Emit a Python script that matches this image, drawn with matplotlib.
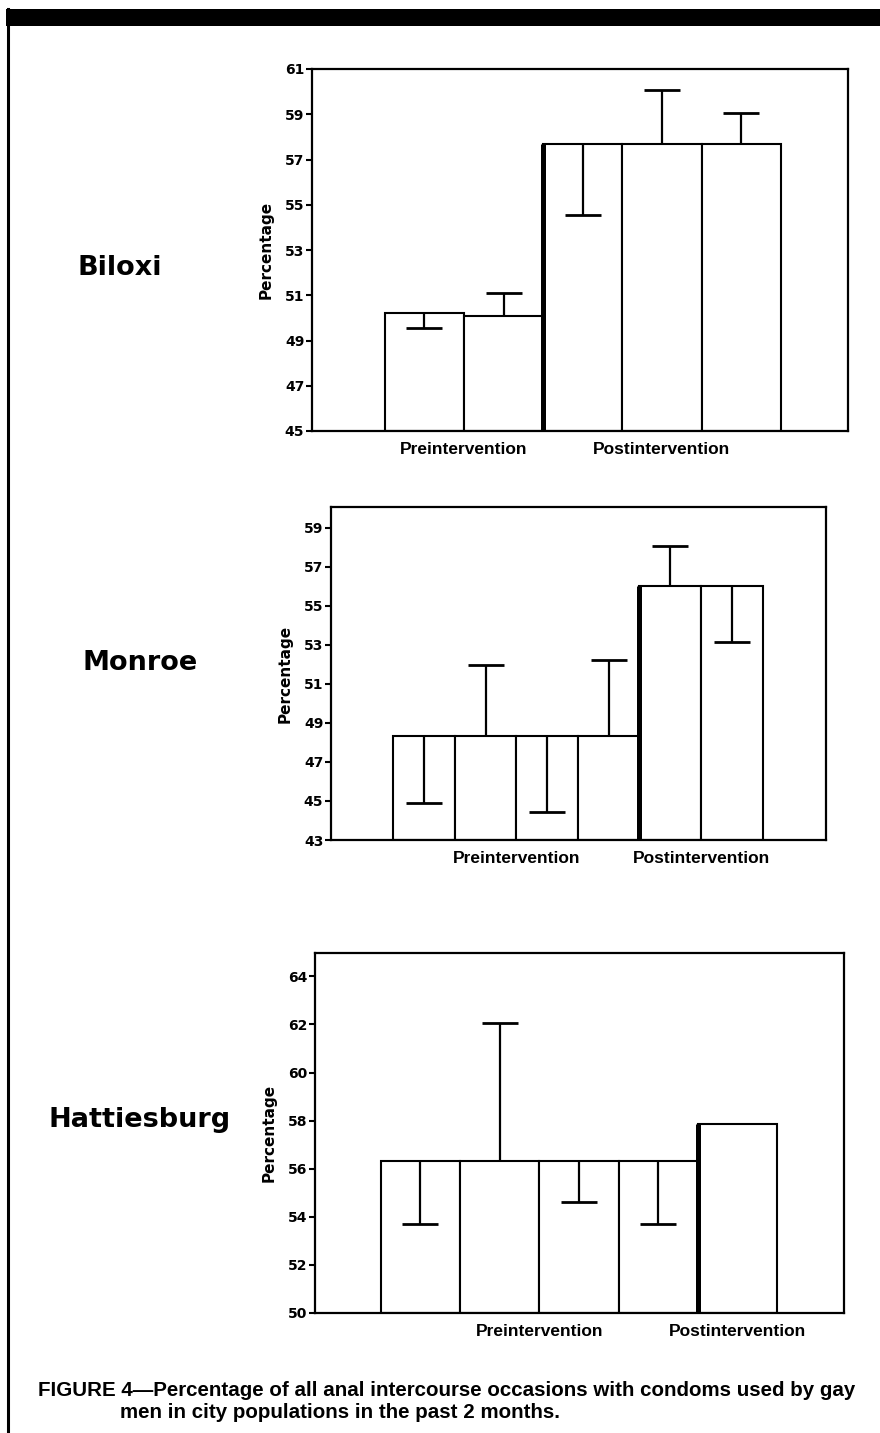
import matplotlib
matplotlib.use("Agg")
import matplotlib.pyplot as plt
from matplotlib.lines import Line2D
from matplotlib.patches import Rectangle

# ---------------- data ----------------
cities = ["Biloxi", "Monroe", "Hattiesburg"]
group_labels = ["Preintervention", "Postintervention"]

biloxi_values = [50.2, 50.1, 57.7, 57.7, 57.7]
biloxi_err_end = [49.55, 51.1, 54.55, 60.05, 59.05]
biloxi_n_pre = 2
biloxi_ticks = [45, 47, 49, 51, 53, 55, 57, 59, 61]

monroe_values = [48.35, 48.35, 48.35, 48.35, 56.0, 56.0]
monroe_err_end = [44.9, 51.95, 44.45, 52.2, 58.05, 53.15]
monroe_n_pre = 4
monroe_ticks = [43, 45, 47, 49, 51, 53, 55, 57, 59]

hatt_values = [56.3, 56.3, 56.3, 56.3, 57.85]
hatt_err_end = [53.7, 62.05, 54.6, 53.7, None]
hatt_n_pre = 4
hatt_ticks = [50, 52, 54, 56, 58, 60, 62, 64]

caption_1 = "FIGURE 4\u2014Percentage of all anal intercourse occasions with condoms used by gay"
caption_2 = "men in city populations in the past 2 months."

# ---------------- layout ----------------
W, H = 880, 1433
fig = plt.figure(figsize=(W / 100, H / 100), dpi=100)

def fig_rect(left, right, top, bottom):
    return [left / W, 1 - bottom / H, (right - left) / W, (bottom - top) / H]

panels = [
    dict(name=cities[0], values=biloxi_values, err=biloxi_err_end, n_pre=biloxi_n_pre,
         ticks=biloxi_ticks, ylim=(45, 61), xlim=(-1.42, 5.35),
         rect=fig_rect(312, 848, 69, 431), city_xy=(120, 268)),
    dict(name=cities[1], values=monroe_values, err=monroe_err_end, n_pre=monroe_n_pre,
         ticks=monroe_ticks, ylim=(43, 60.05), xlim=(-1.51, 6.53),
         rect=fig_rect(331, 826, 507, 840), city_xy=(140, 663)),
    dict(name=cities[2], values=hatt_values, err=hatt_err_end, n_pre=hatt_n_pre,
         ticks=hatt_ticks, ylim=(50, 64.97), xlim=(-1.33, 5.34),
         rect=fig_rect(315, 844, 953, 1313), city_xy=(140, 1120)),
]

for p in panels:
    ax = fig.add_axes(p["rect"])
    vals = p["values"]
    n = len(vals)
    xs = list(range(n))
    ax.bar(xs, [v - p["ylim"][0] for v in vals], bottom=p["ylim"][0], width=1.0,
           facecolor="white", edgecolor="black", linewidth=1.5, zorder=2)
    # one-sided error bars: stem from bar top to the end, cap only at the end
    for x, v, e in zip(xs, vals, p["err"]):
        if e is None:
            continue
        ax.vlines(x, min(v, e), max(v, e), colors="black", linewidth=1.6, zorder=3)
        ax.plot([x], [e], marker="_", markersize=26, markeredgewidth=2.0,
                color="black", linestyle="none", zorder=3)
    # heavy line separating pre and post
    sep = p["n_pre"] - 0.5
    ax.vlines(sep, p["ylim"][0], vals[p["n_pre"]], colors="black", linewidth=3.6, zorder=4)

    ax.set_xlim(*p["xlim"])
    ax.set_ylim(*p["ylim"])
    ax.set_yticks(p["ticks"])
    ax.set_yticklabels([str(t) for t in p["ticks"]], fontsize=10, fontweight="bold",
                       family="DejaVu Sans")
    pre_c = (p["n_pre"] - 1) / 2
    post_c = p["n_pre"] + (n - p["n_pre"] - 1) / 2
    ax.set_xticks([pre_c, post_c])
    ax.set_xticklabels(group_labels, fontsize=12.5, fontweight="bold",
                       family="Liberation Sans")
    ax.tick_params(axis="x", length=0, pad=8)
    ax.tick_params(axis="y", length=4, width=1.5, pad=1.5, direction="out")
    for s in ax.spines.values():
        s.set_linewidth(1.6)
    ax.set_ylabel("Percentage", fontsize=11, fontweight="bold", family="DejaVu Sans",
                  labelpad=8)
    cx, cy = p["city_xy"]
    fig.text(cx / W, 1 - cy / H, p["name"], fontsize=19.5, fontweight="bold",
             family="DejaVu Sans", ha="center", va="center")

# decorative frame pieces of the page
fig.add_artist(Rectangle((6 / W, 1 - 26 / H), (W - 6) / W, 17 / H,
                         transform=fig.transFigure, facecolor="black",
                         edgecolor="none"))
fig.add_artist(Line2D([7.5 / W, 7.5 / W], [0, 1 - 9 / H], transform=fig.transFigure,
                      color="black", linewidth=2.2))

fig.text(38 / W, 1 - 1390 / H, caption_1, fontsize=14.8, fontweight="bold",
         family="Liberation Sans", ha="left", va="center")
fig.text(120 / W, 1 - 1412 / H, caption_2, fontsize=14.8, fontweight="bold",
         family="Liberation Sans", ha="left", va="center")

fig.savefig("out.png", dpi=100, facecolor="white")
